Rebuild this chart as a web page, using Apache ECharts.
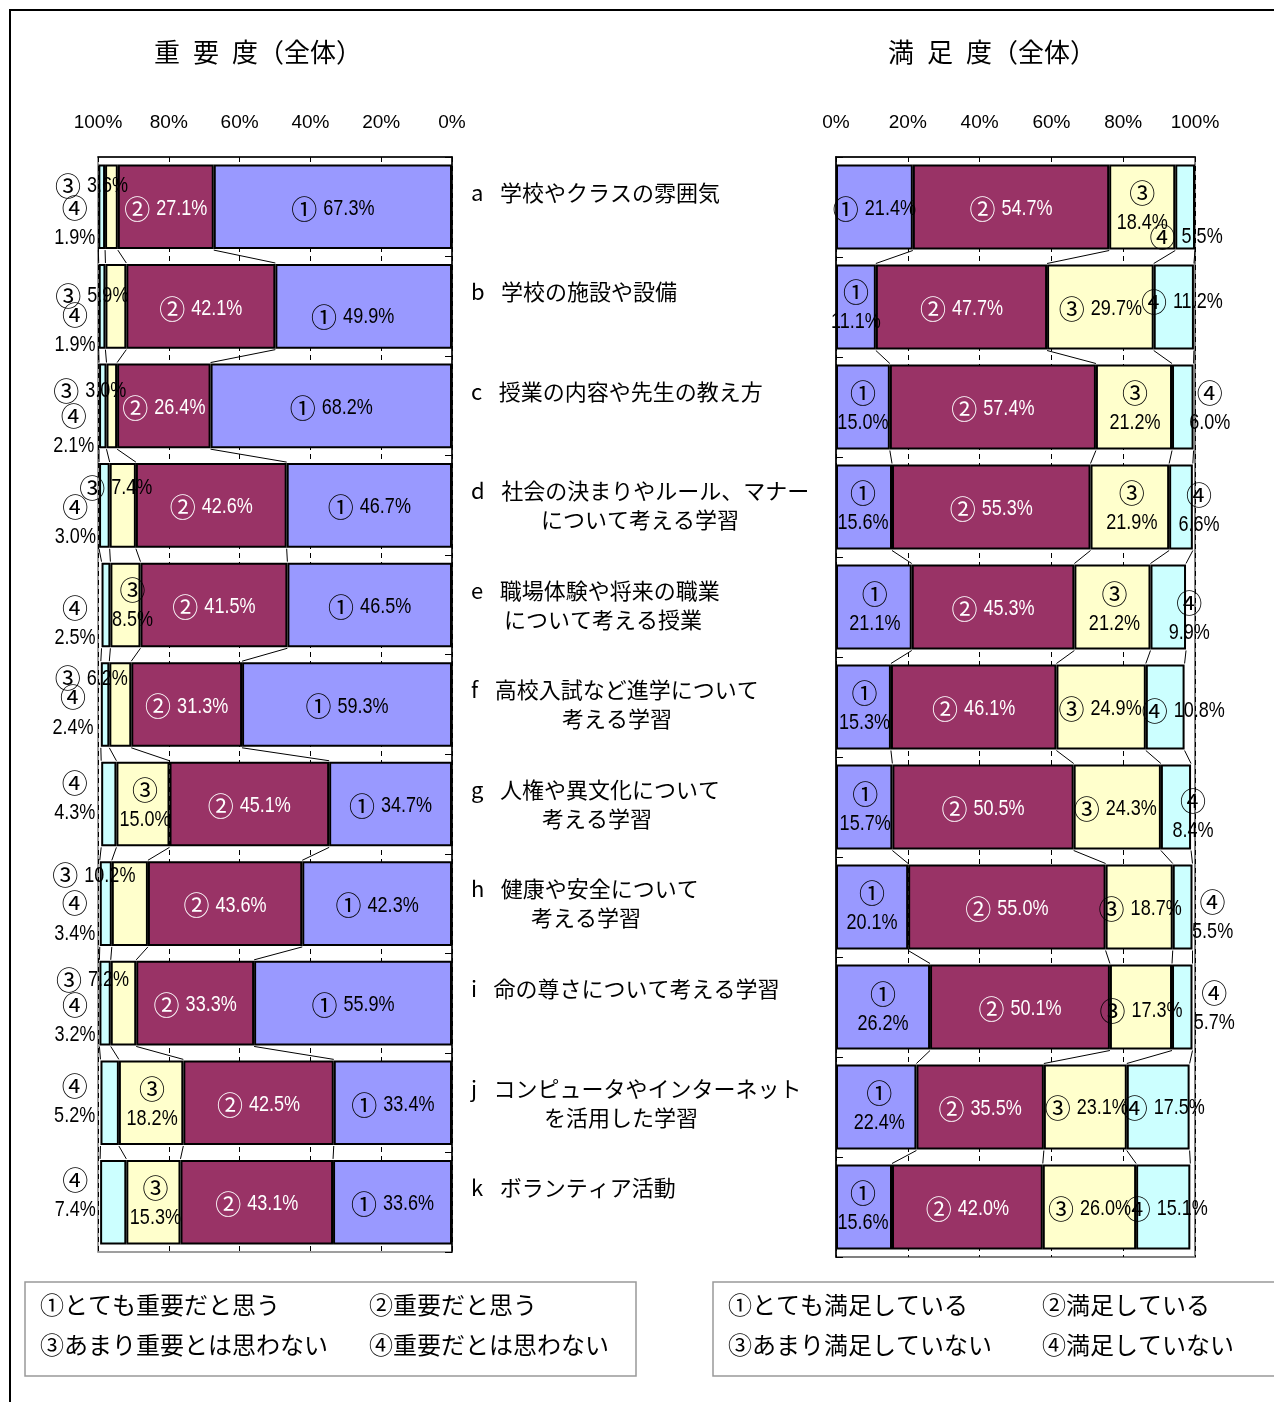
<!DOCTYPE html>
<html><head><meta charset="utf-8">
<script src="https://cdn.jsdelivr.net/npm/echarts@6/dist/echarts.min.js"></script>
<style>html,body{margin:0;padding:0;background:#fff}#c{width:1274px;height:1402px}</style>
</head><body><div id="c"></div>
<script>
// ---------- data ----------
const categories = [
  'a　学校やクラスの雰囲気',
  'b　学校の施設や設備',
  'c　授業の内容や先生の教え方',
  'd　社会の決まりやルール、マナー\nについて考える学習',
  'e　職場体験や将来の職業\nについて考える授業',
  'f　高校入試など進学について\n考える学習',
  'g　人権や異文化について\n考える学習',
  'h　健康や安全について\n考える学習',
  'i　命の尊さについて考える学習',
  'j　コンピュータやインターネット\nを活用した学習',
  'k　ボランティア活動'
];
const impTitle = '重 要 度（全体）';
const satTitle = '満 足 度（全体）';
const marks = ['①', '②', '③', '④'];
const tickLabels = ['0%', '20%', '40%', '60%', '80%', '100%'];

// 重要度
const imp1 = [67.3, 49.9, 68.2, 46.7, 46.5, 59.3, 34.7, 42.3, 55.9, 33.4, 33.6];
const imp2 = [27.1, 42.1, 26.4, 42.6, 41.5, 31.3, 45.1, 43.6, 33.3, 42.5, 43.1];
const imp3 = [3.6, 5.9, 3.0, 7.4, 8.5, 6.2, 15.0, 10.2, 7.2, 18.2, 15.3];
const imp4 = [1.9, 1.9, 2.1, 3.0, 2.5, 2.4, 4.3, 3.4, 3.2, 5.2, 7.4];
// 満足度
const sat1 = [21.4, 11.1, 15.0, 15.6, 21.1, 15.3, 15.7, 20.1, 26.2, 22.4, 15.6];
const sat2 = [54.7, 47.7, 57.4, 55.3, 45.3, 46.1, 50.5, 55.0, 50.1, 35.5, 42.0];
const sat3 = [18.4, 29.7, 21.2, 21.9, 21.2, 24.9, 24.3, 18.7, 17.3, 23.1, 26.0];
const sat4 = [5.5, 11.2, 6.0, 6.6, 9.9, 10.8, 8.4, 5.5, 5.7, 17.5, 15.1];

const impLegend = ['①とても重要だと思う', '②重要だと思う', '③あまり重要とは思わない', '④重要だとは思わない'];
const satLegend = ['①とても満足している', '②満足している', '③あまり満足していない', '④満足していない'];

// ---------- styles ----------
const colors = ['#9999FF', '#993366', '#FFFFCC', '#CCFFFF'];
const labelColors = ['#000', '#fff', '#000', '#000'];
const JP_FONT = '"Noto Sans CJK JP","Noto Sans",sans-serif';
const NUM_FAMILY = '"Liberation Sans",Arial,sans-serif';
const NUM_FONT = '22px ' + NUM_FAMILY;
const CIRC_FONT = '26px ' + JP_FONT;
const NUM_SCALE_X = 0.82;   // emulate a narrow face
const LINE_GAP = 15;        // half distance between two label lines
const MARK_GAP = 6;         // gap between circled mark and number
// second-line indent for category labels (px)
const catIndent = [0, 0, 0, 70, 33, 91, 71, 60, 0, 73, 0];
// label layout per series/category: [lines, dx, dy]
const impLabelLayout = [
  [[1,0,2],[1,-11,11],[1,0,2],[1,0,2],[1,0,2],[1,0,2],[1,0,2],[1,0,2],[1,0,2],[1,0,2],[1,0,2]],
  [[1,0,2],[1,0,3],[1,0,2],[1,0,2],[1,0,2],[1,0,2],[1,0,2],[1,0,2],[1,0,2],[1,0,2],[1,0,2]],
  [[1,-20,-21],[1,-24,-10],[1,-22,-15],[1,-7,-17],[2,7,0],[1,-29,-26],[2,2,1],[1,-36,-28],[1,-31,-23],[2,1,1],[2,2,1]],
  [[2,-27,16],[2,-27,24],[2,-29,25],[2,-29,17],[2,-31,18],[2,-32,8],[2,-34,-6],[2,-31,15],[2,-30,17],[2,-35,-2],[2,-38,-7]]
];
const satLabelLayout = [
  [[1,0,2],[2,0,0],[2,0,1],[2,-1,1],[2,1,2],[2,1,1],[2,1,2],[2,0,1],[2,0,2],[2,3,1],[2,-1,1]],
  [[1,0,2],[1,0,2],[1,0,2],[1,0,2],[1,0,2],[1,0,2],[1,0,2],[1,0,2],[1,0,2],[1,0,2],[1,0,2]],
  [[2,0,1],[1,0,2],[2,1,1],[2,2,1],[2,2,2],[1,-1,2],[1,-2,2],[1,1,2],[1,0,4],[1,1,1],[1,0,2]],
  [[1,1,30],[1,8,-5],[2,27,1],[2,18,3],[2,21,11],[1,18,4],[2,17,9],[2,30,10],[2,32,1],[1,5,1],[1,3,2]]
];

// ---------- build ----------
const chart = echarts.init(document.getElementById('c'), null, { renderer: 'canvas' });
const mctx = document.createElement('canvas').getContext('2d');
function textWidth(s, font) { mctx.font = font; return mctx.measureText(s).width; }

function barSeries(arrs, gridIdx, stack) {
  return arrs.map((arr, s) => ({
    type: 'bar', stack: stack, xAxisIndex: gridIdx, yAxisIndex: gridIdx,
    barCategoryGap: '15%',
    itemStyle: { color: colors[s], borderColor: '#000', borderWidth: 2 },
    data: arr,
    z: 2
  }));
}

function rowsOf(arrs) {
  return arrs[0].map((_, i) => [i].concat(arrs.map(a => a[i])));
}

function labelSeries(arrs, layout, gridIdx) {
  return {
    type: 'custom', xAxisIndex: gridIdx, yAxisIndex: gridIdx, clip: false, silent: true, z: 5,
    encode: { x: [1, 2, 3, 4], y: 0 },
    data: rowsOf(arrs),
    renderItem: function (params, api) {
      const i = api.value(0);
      const children = [];
      let cum = 0;
      for (let s = 0; s < 4; s++) {
        const v = api.value(1 + s);
        const a = cum, b = cum + v; cum = b;
        const p1 = api.coord([a, i]), p2 = api.coord([b, i]);
        const L = layout[s][i];
        const x = (p1[0] + p2[0]) / 2 + L[1];
        const y = p1[1] + L[2];
        const num = v.toFixed(1) + '%';
        const fill = labelColors[s];
        if (L[0] === 2) {
          children.push({ type: 'text', x: x, y: y - LINE_GAP,
            style: { text: marks[s], font: CIRC_FONT, fill: fill, align: 'center', verticalAlign: 'middle' } });
          children.push({ type: 'text', x: x, y: y + LINE_GAP, scaleX: NUM_SCALE_X,
            style: { text: num, font: NUM_FONT, fill: fill, align: 'center', verticalAlign: 'middle' } });
        } else {
          const wc = textWidth(marks[s], CIRC_FONT);
          const wn = textWidth(num, NUM_FONT) * NUM_SCALE_X;
          const W = wc + MARK_GAP + wn;
          const x0 = x - W / 2;
          children.push({ type: 'text', x: x0, y: y,
            style: { text: marks[s], font: CIRC_FONT, fill: fill, align: 'left', verticalAlign: 'middle' } });
          children.push({ type: 'text', x: x0 + wc + MARK_GAP, y: y, scaleX: NUM_SCALE_X,
            style: { text: num, font: NUM_FONT, fill: fill, align: 'left', verticalAlign: 'middle' } });
        }
      }
      return { type: 'group', children };
    }
  };
}

function seriesLineData(arrs) {
  const out = [];
  const n = arrs[0].length;
  for (let i = 0; i < n - 1; i++) {
    const row = [i];
    let c = 0; arrs.forEach(a => { c += a[i]; row.push(+c.toFixed(2)); });
    c = 0; arrs.forEach(a => { c += a[i + 1]; row.push(+c.toFixed(2)); });
    out.push(row);
  }
  return out;
}

function seriesLines(arrs, gridIdx) {
  return {
    type: 'custom', xAxisIndex: gridIdx, yAxisIndex: gridIdx, clip: false, silent: true, z: 3,
    encode: { x: [1, 2, 3, 4, 5, 6, 7, 8], y: 0 },
    data: seriesLineData(arrs),
    renderItem: function (params, api) {
      const i = api.value(0);
      const band = api.size([0, 1])[1];
      const h = band * 0.85 / 2;
      const children = [];
      for (let k = 0; k < 4; k++) {
        const p1 = api.coord([api.value(1 + k), i]);
        const p2 = api.coord([api.value(5 + k), i + 1]);
        children.push({ type: 'line', shape: { x1: p1[0], y1: p1[1] + h + 1, x2: p2[0], y2: p2[1] - h - 1 },
          style: { stroke: '#000', lineWidth: 1 } });
      }
      return { type: 'group', children };
    }
  };
}

const rich = { l1: { fontFamily: JP_FONT, fontSize: 22, lineHeight: 29, color: '#000' } };
catIndent.forEach(p => { rich['p' + p] = { fontFamily: JP_FONT, fontSize: 22, lineHeight: 29, color: '#000', padding: [0, 0, 0, p] }; });

function catFormatter(val) {
  const parts = val.split('\n');
  const i = categories.indexOf(val);
  const first = parts[0].replace('　', '\u2002\u2005');
  if (parts.length === 1) return '{l1|' + first + '}\n{l1|　}';
  return '{l1|' + first + '}\n{p' + catIndent[i] + '|' + parts[1] + '}';
}

const xAxisCommon = {
  type: 'value', min: 0, max: 100, interval: 20, position: 'top',
  axisLine: { show: true, lineStyle: { color: '#000', width: 1.5 } },
  axisTick: { show: false },
  axisLabel: { margin: 25, fontFamily: NUM_FAMILY, fontSize: 19, color: '#000',
    formatter: v => tickLabels[Math.round(v / 20)] },
  splitLine: { show: true, lineStyle: { color: '#000', width: 1, type: [5, 4] } }
};

const titleFont = '26px ' + JP_FONT;
const legendFont = '24px ' + JP_FONT;
function spaced(t) { return t.replace(/ /g, '\u2002'); }

const option = {
  animation: false,
  backgroundColor: '#fff',
  grid: [
    { left: 98, right: 822, top: 157, bottom: 150, show: true, borderColor: '#808080', borderWidth: 1.5, containLabel: false },
    { left: 836, right: 79, top: 157, bottom: 145, show: true, borderColor: '#808080', borderWidth: 2, containLabel: false }
  ],
  xAxis: [
    Object.assign({}, xAxisCommon, { gridIndex: 0, inverse: true }),
    Object.assign({}, xAxisCommon, { gridIndex: 1 })
  ],
  yAxis: [
    { type: 'category', gridIndex: 0, data: categories, inverse: true, position: 'right',
      axisLine: { show: true, lineStyle: { color: '#000', width: 1.5 } },
      axisTick: { show: true, inside: true, length: 7, lineStyle: { color: '#000' } },
      axisLabel: { show: true, margin: 19, align: 'left', formatter: catFormatter, rich: rich },
      splitLine: { show: false } },
    { type: 'category', gridIndex: 1, data: categories, inverse: true, position: 'left',
      axisLine: { show: true, lineStyle: { color: '#000', width: 1.5 } },
      axisTick: { show: true, inside: true, length: 7, lineStyle: { color: '#000' } },
      axisLabel: { show: false },
      splitLine: { show: false } }
  ],
  series: [
    ...barSeries([imp1, imp2, imp3, imp4], 0, 'imp'),
    ...barSeries([sat1, sat2, sat3, sat4], 1, 'sat'),
    seriesLines([imp1, imp2, imp3, imp4], 0),
    seriesLines([sat1, sat2, sat3, sat4], 1),
    labelSeries([imp1, imp2, imp3, imp4], impLabelLayout, 0),
    labelSeries([sat1, sat2, sat3, sat4], satLabelLayout, 1)
  ],
  graphic: [
    { type: 'polyline', shape: { points: [[10, 1402], [10, 10], [1274, 10]] }, style: { stroke: '#000', lineWidth: 2, fill: null } },
    { type: 'text', x: 258, y: 52, style: { text: spaced(impTitle), font: titleFont, fill: '#000', align: 'center', verticalAlign: 'middle' } },
    { type: 'text', x: 992, y: 52, style: { text: spaced(satTitle), font: titleFont, fill: '#000', align: 'center', verticalAlign: 'middle' } },
    { type: 'rect', shape: { x: 25, y: 1282, width: 611, height: 94 }, style: { fill: '#fff', stroke: '#999', lineWidth: 1.5 } },
    { type: 'rect', shape: { x: 713, y: 1282, width: 570, height: 94 }, style: { fill: '#fff', stroke: '#999', lineWidth: 1.5 } },
    { type: 'text', x: 40, y: 1305, style: { text: impLegend[0], font: legendFont, fill: '#000', verticalAlign: 'middle' } },
    { type: 'text', x: 369, y: 1305, style: { text: impLegend[1], font: legendFont, fill: '#000', verticalAlign: 'middle' } },
    { type: 'text', x: 40, y: 1345, style: { text: impLegend[2], font: legendFont, fill: '#000', verticalAlign: 'middle' } },
    { type: 'text', x: 369, y: 1345, style: { text: impLegend[3], font: legendFont, fill: '#000', verticalAlign: 'middle' } },
    { type: 'text', x: 728, y: 1305, style: { text: satLegend[0], font: legendFont, fill: '#000', verticalAlign: 'middle' } },
    { type: 'text', x: 1042, y: 1305, style: { text: satLegend[1], font: legendFont, fill: '#000', verticalAlign: 'middle' } },
    { type: 'text', x: 728, y: 1345, style: { text: satLegend[2], font: legendFont, fill: '#000', verticalAlign: 'middle' } },
    { type: 'text', x: 1042, y: 1345, style: { text: satLegend[3], font: legendFont, fill: '#000', verticalAlign: 'middle' } }
  ]
};
chart.setOption(option);
</script>
</body></html>
